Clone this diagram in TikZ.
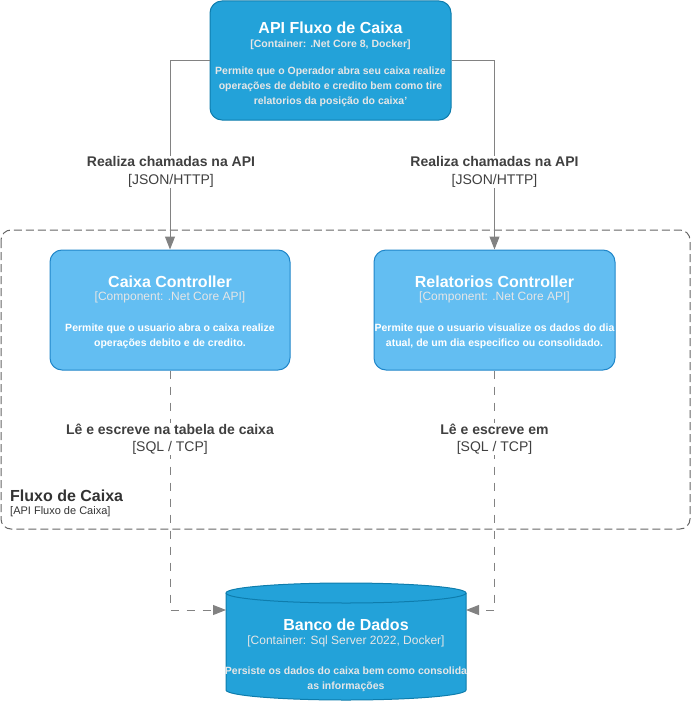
\documentclass[tikz,border=0pt]{standalone}
\usepackage{fontspec}
\setmainfont{Liberation Sans}
\usetikzlibrary{arrows.meta}
\definecolor{contfill}{HTML}{23A2D9}
\definecolor{contline}{HTML}{0E7DAD}
\definecolor{compfill}{HTML}{63BEF2}
\definecolor{compline}{HTML}{2086C9}
\definecolor{relline}{HTML}{828282}
\definecolor{reltext}{HTML}{404040}
\definecolor{bndline}{HTML}{666666}
\definecolor{bndtext}{HTML}{333333}
\definecolor{desctext}{HTML}{E6E6E6}
\tikzset{
  container/.style={draw=contline, fill=contfill, line width=1pt, rounded corners=12pt,
    minimum width=241pt, minimum height=119pt, inner sep=0pt},
  component/.style={draw=compline, fill=compfill, line width=1pt, rounded corners=12pt,
    minimum width=240pt, minimum height=120pt, inner sep=0pt},
  boxtitle/.style={text=white, font=\fontsize{16}{19}\selectfont\bfseries, inner sep=0pt},
  boxsub/.style={text=desctext, font=\fontsize{12}{14}\selectfont, inner sep=0pt},
  boxdesc/.style={text=desctext, font=\fontsize{10.5}{15}\selectfont\bfseries, align=center, inner sep=0pt},
  rel/.style={draw=relline, line width=1pt, -{Triangle[width=10pt,length=13pt,fill=relline]}},
  reldash/.style={rel, dash pattern=on 8pt off 8pt},
  rellabel/.style={text=reltext, fill=white, align=center, inner sep=1pt,
    font=\fontsize{14}{17.5}\selectfont},
  boundary/.style={draw=bndline, line width=1pt, dash pattern=on 8pt off 4pt, rounded corners=10pt},
}
\begin{document}
\begin{tikzpicture}[x=1pt,y=-1pt]
\useasboundingbox (0,0) rectangle (691,701);

% boundary
\draw[boundary] (1,230) rectangle (690,529);
\node[anchor=west, text=bndtext, font=\fontsize{16}{19}\selectfont\bfseries, inner sep=0pt] (bndT) at (10,496) {Fluxo de Caixa};
\node[anchor=west, text=bndtext, font=\fontsize{11}{13}\selectfont, inner sep=0pt] (bndS) at (10,511.5) {[API Fluxo de Caixa]};

% API container
\node[container] (api) at (330.5,60.5) {};
\node[boxtitle] (apiT) at (330.5,27.5) {API Fluxo de Caixa};
\node[boxsub, font=\fontsize{10.5}{13}\selectfont\bfseries] (apiS) at (330.5,44.5) {[Container: .Net Core 8, Docker]};
\node[boxdesc] (apiD) at (330.5,87) {Permite que o Operador abra seu caixa realize\\operações de debito e credito bem como tire\\relatorios da posição do caixa'};

% components
\node[component] (caixa) at (170,310) {};
\node[boxtitle] (caixaT) at (170,281.5) {Caixa Controller};
\node[boxsub] (caixaS) at (170,297.5) {[Component: .Net Core API]};
\node[boxdesc, text=white] (caixaD) at (170,336.5) {Permite que o usuario abra o caixa realize\\operações debito e de credito.};

\node[component, minimum width=241pt] (relat) at (494.5,310) {};
\node[boxtitle] (relatT) at (494.5,281.5) {Relatorios Controller};
\node[boxsub] (relatS) at (494.5,297.5) {[Component: .Net Core API]};
\node[boxdesc, text=white] (relatD) at (494.5,336.5) {Permite que o usuario visualize os dados do dia\\atual, de um dia especifico ou consolidado.};

% database cylinder
\coordinate (dbL) at (226,610);
\coordinate (dbR) at (466,610);
\filldraw[draw=contline, fill=contfill, line width=1pt]
  (226,593) -- (226,690) arc[start angle=180, end angle=360, x radius=120pt, y radius=10pt]
  -- (466,593) arc[start angle=0, end angle=180, x radius=120pt, y radius=10pt] -- cycle;
\draw[contline, line width=1pt] (226,593) arc[start angle=180, end angle=360, x radius=120pt, y radius=10pt];
\node[inner sep=0pt, minimum width=240pt, minimum height=117pt] (db) at (346,641.5) {};
\node[boxtitle] (dbT) at (346,625) {Banco de Dados};
\node[boxsub] (dbS) at (346,641) {[Container: Sql Server 2022, Docker]};
\node[boxdesc] (dbD) at (346,679) {Persiste os dados do caixa bem como consolida\\as informações};

% connectors
\draw[rel] (api.west) -| (caixa.north);
\draw[rel] (api.east) -| (relat.north);
\draw[reldash] (caixa.south) |- (dbL);
\draw[reldash] (relat.south) |- (dbR);

% connector labels
\node[rellabel] (l1) at (171,172) {\textbf{Realiza chamadas na API}\\{}[JSON/HTTP]};
\node[rellabel] (l2) at (494.5,172) {\textbf{Realiza chamadas na API}\\{}[JSON/HTTP]};
\node[rellabel] (l3) at (170,439) {\textbf{Lê e escreve na tabela de caixa}\\{}[SQL / TCP]};
\node[rellabel] (l4) at (494.5,439) {\textbf{Lê e escreve em}\\{}[SQL / TCP]};
\end{tikzpicture}
\end{document}
